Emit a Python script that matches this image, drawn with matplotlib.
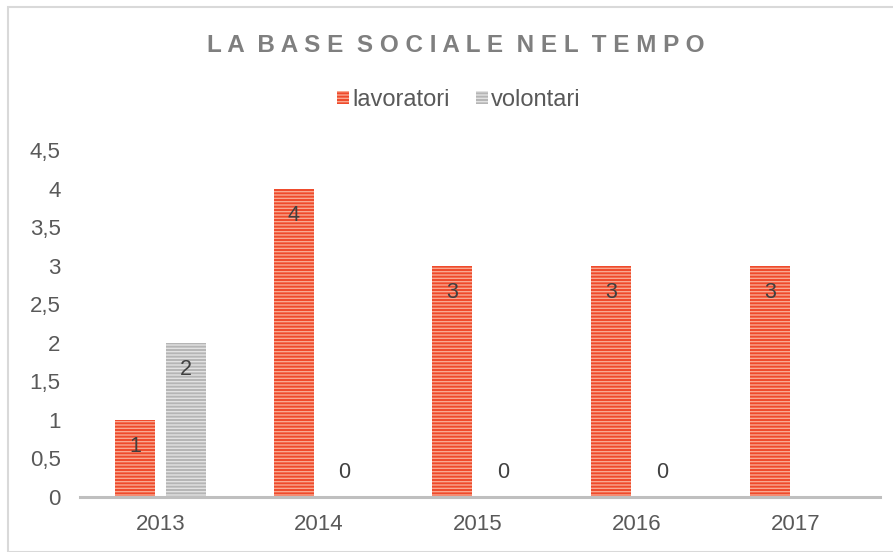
import matplotlib
matplotlib.use("Agg")
import matplotlib.pyplot as plt
import numpy as np
from matplotlib.patches import Rectangle

plt.rcParams['font.family'] = ['Liberation Sans', 'DejaVu Sans']
plt.rcParams['hatch.linewidth'] = 1.0

years = ["2013", "2014", "2015", "2016", "2017"]
lavoratori = [1, 4, 3, 3, 3]
volontari = [2, 0, 0, 0, None]
yticks = [0, 0.5, 1, 1.5, 2, 2.5, 3, 3.5, 4, 4.5]
ytick_labels = ["0", "0,5", "1", "1,5", "2", "2,5", "3", "3,5", "4", "4,5"]
title = "LA BASE SOCIALE NEL TEMPO"

red_face = "#ef4a2b"
red_hatch = "#f9a890"
grey_face = "#b5b5b5"
grey_hatch = "#e2e2e2"
text_col = "#595959"

fig = plt.figure(figsize=(8.93, 5.52), dpi=100)
ax = fig.add_axes([80/893, 1-497/552, 800/893, (497-150)/552])

x = np.arange(len(years))
w = 0.252
off = 0.16
lav_bars = ax.bar(x - off, lavoratori, w, color=red_face, edgecolor=red_hatch, hatch="-----", linewidth=0)
vol_vals = [v if v is not None else 0 for v in volontari]
vol_bars = ax.bar(x + off, vol_vals, w, color=grey_face, edgecolor=grey_hatch, hatch="-----", linewidth=0)

def label(bars, vals):
    for b, v in zip(bars, vals):
        if v is None:
            continue
        cx = b.get_x() + b.get_width() / 2
        h = b.get_height()
        dy = -27 if v > 0 else 25
        ax.annotate(str(v), (cx, h), xytext=(0, dy), textcoords="offset pixels",
                    ha="center", va="center", fontsize=15.5, color="#404040")

label(lav_bars, lavoratori)
label(vol_bars, volontari)

ax.set_xlim(-0.506, 4.533)
ax.set_ylim(0, 4.5)
ax.set_yticks(yticks)
ax.set_yticklabels(ytick_labels)
ax.set_xticks(x)
ax.set_xticklabels(years)
for s in ["top", "right", "left"]:
    ax.spines[s].set_visible(False)
ax.spines["bottom"].set_color("#bfbfbf")
ax.spines["bottom"].set_linewidth(2.2)
ax.tick_params(axis="both", length=0, labelsize=16, colors=text_col)
ax.tick_params(axis="y", pad=14)
ax.tick_params(axis="x", pad=12)

spaced = "  ".join(" ".join(list(wd)) for wd in title.split(" "))
fig.text(456/893, 1-45/552, spaced, ha="center", va="center", fontsize=17.5,
         fontweight="bold", color="#7f7f7f")

leg = fig.legend([lav_bars, vol_bars], ["lavoratori", "volontari"], loc="center",
                 bbox_to_anchor=(459/893, 1-100/552), ncol=2, frameon=False,
                 fontsize=17, handlelength=0.5, handleheight=0.5, handletextpad=0.15,
                 columnspacing=1.1, labelcolor=text_col)

fig.patches.append(Rectangle((8/893, 0), 1, 1-7/552, transform=fig.transFigure,
                             fill=False, edgecolor="#d9d9d9", linewidth=1.5))

fig.savefig("out.png", dpi=100)
